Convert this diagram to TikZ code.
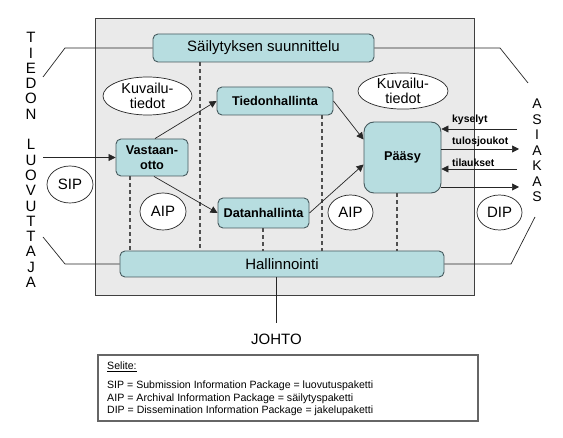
\documentclass[tikz,border=0pt]{standalone}
\usepackage{fontspec}
\setmainfont{Liberation Sans}
\usetikzlibrary{arrows.meta,shapes.geometric}
\definecolor{boxfill}{RGB}{183,221,224}
\definecolor{bgfill}{RGB}{234,234,234}
\definecolor{boxline}{RGB}{70,90,94}
\definecolor{dashcol}{RGB}{80,80,80}
\begin{document}
\begin{tikzpicture}[x=1pt,y=-1pt,
  box/.style={draw=boxline, fill=boxfill, rounded corners=5pt, line width=0.9pt, inner sep=0pt, align=center},
  oval/.style={draw=black!85, fill=white, ellipse, line width=0.7pt, inner sep=0pt, align=center},
  conn/.style={line width=0.7pt, draw=black!85},
  arr/.style={conn, -{Triangle[length=7pt,width=7pt]}},
  dline/.style={draw=dashcol, line width=1.1pt, dash pattern=on 4pt off 3pt},
  big/.style={font=\fontsize{15}{18}\selectfont},
  bbold/.style={font=\bfseries\fontsize{12.7}{14.5}\selectfont},
  oval14/.style={font=\fontsize{14.4}{15}\selectfont},
  small/.style={font=\bfseries\fontsize{10.4}{12}\selectfont, inner sep=0pt, anchor=west},
  legline/.style={font=\fontsize{10.6}{12.5}\selectfont, anchor=west, inner sep=0pt},
]
\useasboundingbox (0,0) rectangle (563,438);
% background rectangle
\node[draw=black!75, fill=bgfill, line width=0.9pt, minimum width=379pt, minimum height=277pt, inner sep=0pt] (bg) at (284.5,156.5) {};

% boxes
\node[box, big, minimum width=221pt, minimum height=28pt] (sail) at (263.5,48) {Säilytyksen suunnittelu};
\node[box, bbold, minimum width=116pt, minimum height=28pt] (tied) at (275,101) {Tiedonhallinta};
\node[box, bbold, minimum width=72pt, minimum height=37pt] (vast) at (152,157.5) {Vastaan-\\otto};
\node[box, bbold, minimum width=91pt, minimum height=30pt] (data) at (263.5,213) {Datanhallinta};
\node[box, big, minimum width=324pt, minimum height=26pt] (hall) at (282,264) {Hallinnointi};
\node[box, bbold, rounded corners=10pt, minimum width=77pt, minimum height=71pt] (paasy) at (402.5,157.5) {Pääsy};

% ovals
\node[oval, oval14, minimum width=89pt, minimum height=38pt] (kuv1) at (147.5,96) {Kuvailu-\\tiedot};
\node[oval, oval14, minimum width=90pt, minimum height=32pt] (kuv2) at (403,91) {Kuvailu-\\tiedot};
\node[oval, big, minimum width=46pt, minimum height=37pt] (sip) at (70,184.5) {SIP};
\node[oval, big, minimum width=46pt, minimum height=37pt] (aip1) at (163,211.5) {AIP};
\node[oval, big, minimum width=45pt, minimum height=35pt] (aip2) at (350.5,212.5) {AIP};
\node[oval, big, minimum width=45pt, minimum height=35pt] (dip) at (499.5,212.5) {DIP};

% dashed lines
\coordinate (d1) at (130,0);
\coordinate (d2) at (200,0);
\coordinate (d3) at (263,0);
\coordinate (d4) at (322,0);
\coordinate (d5) at (397,0);
\draw[dline] (vast.south -| d1) -- (hall.north -| d1);
\draw[dline] (sail.south -| d2) -- (hall.north -| d2);
\draw[dline] (data.south -| d3) -- (hall.north -| d3);
\draw[dline] (tied.south -| d4) -- (hall.north -| d4);
\draw[dline] (paasy.south -| d5) -- (hall.north -| d5);

% arrows inside
\draw[arr] ([xshift=3pt]vast.north) -- (tied.west);
\draw[arr] ([xshift=2pt]vast.south) -- (data.west);
\draw[arr] (tied.east) -- ([yshift=18pt]paasy.west);
\draw[arr] (data.east) -- ([yshift=-7pt]paasy.west);
\coordinate (inL) at (43,157.5);
\draw[arr] (inL) -- (vast.west);

% right arrows
\coordinate (r1) at (517,129);
\coordinate (r2) at (519,149);
\coordinate (r3) at (517,169);
\coordinate (r4) at (519,187);
\draw[arr] (r1) -- (paasy.east |- r1);
\draw[arr] (paasy.east |- r2) -- (r2);
\draw[arr] (r3) -- (paasy.east |- r3);
\draw[arr] (paasy.east |- r4) -- (r4);
\node[small] (lk) at (452,120) {kyselyt};
\node[small] (lt) at (452,142) {tulosjoukot};
\node[small] (la) at (452,162.5) {tilaukset};

% side connectors
\coordinate (tl1) at (65,48);
\coordinate (tl2) at (43,77);
\coordinate (bl1) at (65,264);
\coordinate (bl2) at (43,237);
\coordinate (tr1) at (500,48);
\coordinate (tr2) at (528,83);
\coordinate (br1) at (511,264);
\coordinate (br2) at (535,217);
\draw[conn] (sail.west) -- (tl1) -- (tl2);
\draw[conn] (hall.west) -- (bl1) -- (bl2);
\draw[conn] (sail.east) -- (tr1) -- (tr2);
\draw[conn] (hall.east) -- (br1) -- (br2);

% vertical texts
\node[font=\fontsize{15}{15.3}\selectfont, align=center, inner sep=0pt] (tl) at (31,160)
  {T\\I\\E\\D\\O\\N\\[15.3pt]L\\U\\O\\V\\U\\T\\T\\A\\J\\A};
\node[font=\fontsize{14}{15.5}\selectfont, align=center, inner sep=0pt] (as) at (537,150.5)
  {A\\S\\I\\A\\K\\A\\S};

% JOHTO
\coordinate (j) at (276,323);
\draw[conn] (hall.south -| j) -- (j);
\node[big, inner sep=0pt] (johto) at (276.5,339) {JOHTO};

% legend
\node[draw=black!60, line width=1.1pt, minimum width=380pt, minimum height=66pt, inner sep=0pt] (leg) at (288,388) {};
\node[legline] (sel) at (107,367) {\underline{Selite:}};
\node[legline] (leg1) at (107,386) {\resizebox{266pt}{!}{SIP = Submission Information Package = luovutuspaketti}};
\node[legline] (leg2) at (107,398.5) {\resizebox{246pt}{!}{AIP = Archival Information Package = säilytyspaketti}};
\node[legline] (leg3) at (107,411) {\resizebox{266pt}{!}{DIP = Dissemination Information Package = jakelupaketti}};
\end{tikzpicture}
\end{document}
